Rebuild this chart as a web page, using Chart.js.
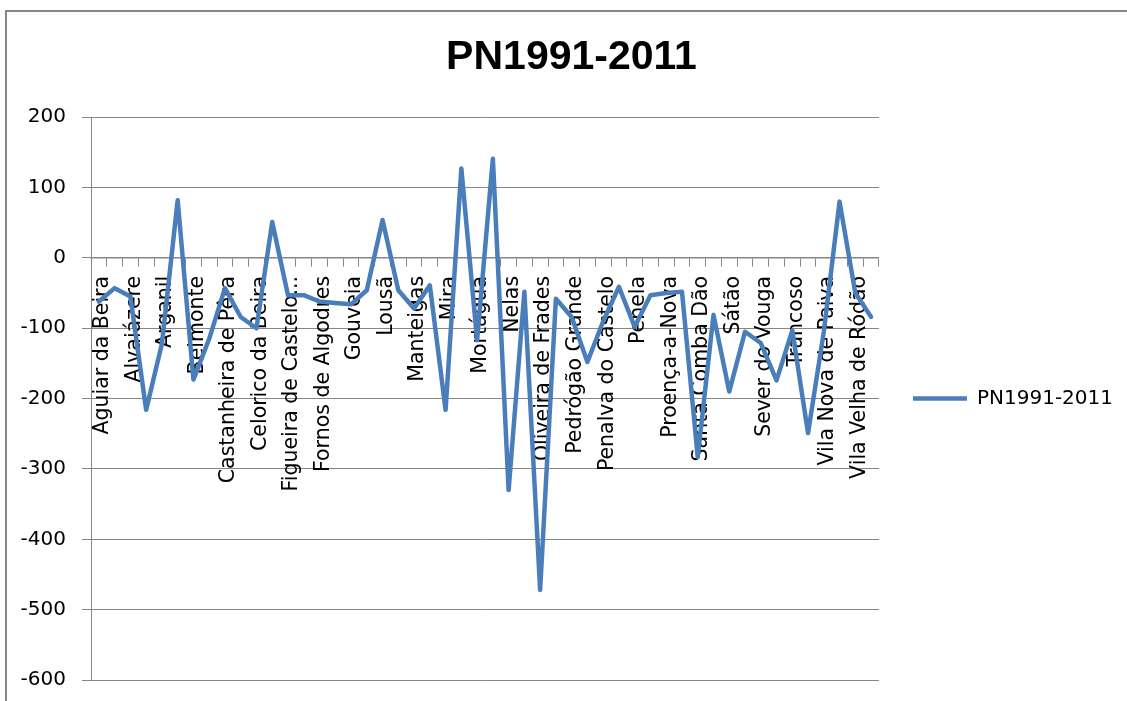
<!DOCTYPE html>
<html>
<head>
<meta charset="utf-8">
<script src="https://cdn.jsdelivr.net/npm/chart.js@4.4.1/dist/chart.umd.min.js"></script>
<style>
  body { margin: 0; background: #fff; }
  #wrap { position: relative; width: 1127px; height: 701px; }
  #frame {
    position: absolute; left: 5px; top: 10px; right: -10px; bottom: -10px;
    border-left: 2px solid #868686; border-top: 2px solid #868686;
    pointer-events: none;
  }
</style>
</head>
<body>
<div id="wrap">
  <canvas id="chart" width="1127" height="701"></canvas>
  <div id="frame"></div>
</div>
<script>
// Municipalities (only every other one is labelled on the axis)
const municipios = [
  "Aguiar da Beira", "Almeida", "Alvaiázere", "Ansião", "Arganil",
  "Arouca", "Belmonte", "Carregal do Sal", "Castanheira de Pêra", "Castro Daire",
  "Celorico da Beira", "Cinfães", "Figueira de Castelo Rodrigo", "Figueiró dos Vinhos", "Fornos de Algodres",
  "Góis", "Gouveia", "Idanha-a-Nova", "Lousã", "Mação",
  "Manteigas", "Mêda", "Mira", "Miranda do Corvo", "Mortágua",
  "Murtosa", "Nelas", "Oleiros", "Oliveira de Frades", "Pampilhosa da Serra",
  "Pedrógão Grande", "Penacova", "Penalva do Castelo", "Penamacor", "Penela",
  "Pinhel", "Proença-a-Nova", "Sabugal", "Santa Comba Dão", "São Pedro do Sul",
  "Sátão", "Sertã", "Sever do Vouga", "Tábua", "Trancoso",
  "Vila de Rei", "Vila Nova de Paiva", "Vila Nova de Poiares", "Vila Velha de Ródão", "Vouzela"
];

const seriesName = "PN1991-2011";

const pn19912011 = [
  -62, -43, -55, -216, -122, 82, -173, -115, -43, -84,
  -100, 51, -53, -53, -62, -64, -66, -46, 54, -46,
  -72, -39, -216, 127, -117, 141, -330, -48, -472, -58,
  -84, -148, -90, -41, -98, -53, -50, -48, -283, -81,
  -190, -105, -121, -174, -103, -249, -105, 80, -50, -84
];

const yMin = -600;
const yMax = 200;
const yStep = 100;

const GRID = "#868686";
const LINE = "#4A7EBB";
const FONT = "'DejaVu Sans', sans-serif";

const ctx = document.getElementById("chart").getContext("2d");

new Chart(ctx, {
  type: "line",
  data: {
    labels: municipios,
    datasets: [
      {
        label: seriesName,
        data: pn19912011,
        borderColor: LINE,
        backgroundColor: LINE,
        borderWidth: 4.5,
        borderJoinStyle: "round",
        borderCapStyle: "round",
        pointRadius: 0,
        fill: false,
        tension: 0,
      },
    ],
  },
  options: {
    responsive: false,
    animation: false,
    layout: {
      padding: { left: 20, right: 4, top: 0, bottom: 21 },
    },
    plugins: {
      title: {
        display: true,
        text: seriesName,
        color: "#000",
        font: { family: "'Liberation Sans', Arial, sans-serif", size: 41, weight: "bold" },
        padding: { top: 33, bottom: 35 },
      },
      legend: {
        display: true,
        position: "right",
        fullSize: false,
        labels: {
          usePointStyle: true,
          pointStyle: "line",
          pointStyleWidth: 54,
          padding: 34,
          color: "#000",
          font: { family: FONT, size: 20 },
        },
      },
      tooltip: { enabled: false },
    },
    scales: {
      x: {
        position: { y: 0 },
        offset: true,
        afterFit: (scale) => {
          // labels hang below the zero line, so they need no layout space
          scale.height = 0;
        },
        grid: {
          display: true,
          drawOnChartArea: false,
          drawTicks: true,
          tickLength: 8,
          color: GRID,
          offset: true,
        },
        border: { display: true, color: GRID, width: 1.5 },
        ticks: {
          autoSkip: false,
          minRotation: 90,
          maxRotation: 90,
          padding: 10,
          labelOffset: 4,
          color: "#000",
          font: { family: FONT, size: 20.5 },
          callback: function (value, index) {
            if (index % 2) return "";
            const s = this.getLabelForValue(value);
            return s.length > 22 ? s.slice(0, 19) + "..." : s;
          },
        },
      },
      y: {
        min: yMin,
        max: yMax,
        afterFit: (scale) => {
          scale.width = 71;
          scale.paddingTop = 0;
          scale.paddingBottom = 0;
        },
        grid: {
          color: GRID,
          lineWidth: 1,
          tickLength: 9,
        },
        border: { display: true, color: GRID, width: 1 },
        ticks: {
          stepSize: yStep,
          padding: 16,
          color: "#000",
          font: { family: FONT, size: 20 },
        },
      },
    },
  },
});
</script>
</body>
</html>
